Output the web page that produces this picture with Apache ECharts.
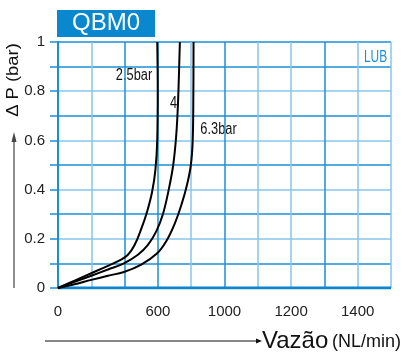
<!DOCTYPE html>
<html><head><meta charset="utf-8">
<script src="https://cdn.jsdelivr.net/npm/echarts@6/dist/echarts.min.js"></script>
<style>html,body{margin:0;padding:0;background:#fff}#c{width:404px;height:358px}</style>
</head><body><div id="c"></div>
<script>
// x tick labels (one per 200 NL/min grid cell, as printed on the original)
var xTickLabels = ['0','','','600','','1000','','1200','','1400',''];
var yTickLabels = {0:'0',0.2:'0.2',0.4:'0.4',0.6:'0.6',0.8:'0.8',1:'1'};
var seriesNames = ['2.5bar','4','6.3bar'];
var flow25 = [0, 100, 200, 300, 370, 420, 460, 500, 535, 565, 585, 596, 599, 596];
var dp25   = [0, 0.03, 0.06, 0.09, 0.112, 0.135, 0.175, 0.24, 0.31, 0.39, 0.48, 0.60, 0.80, 1.0];
var flow4  = [0, 100, 200, 300, 396, 480, 540, 590, 630, 665, 692, 710, 720, 726, 732];
var dp4    = [0, 0.025, 0.05, 0.075, 0.10, 0.135, 0.175, 0.23, 0.30, 0.40, 0.50, 0.62, 0.74, 0.86, 1.0];
var flow63 = [0, 100, 200, 300, 396, 500, 594, 650, 700, 742, 775, 798, 809, 813, 814];
var dp63   = [0, 0.015, 0.033, 0.05, 0.065, 0.095, 0.14, 0.19, 0.26, 0.34, 0.42, 0.50, 0.60, 0.80, 1.0];

function pairs(xs, ys){ return xs.map(function(x,i){return [x, ys[i]];}); }
var DARK = '#1a8fd6', LIGHT = '#86c6ea';
var SANS = '"Liberation Sans", Arial, sans-serif';

var chart = echarts.init(document.getElementById('c'), null, {renderer:'canvas'});
var lineStyle = {color:'#000', width:2};
chart.setOption({
  animation:false,
  grid:{left:58, right:13, top:42, bottom:70},
  xAxis:{type:'value', min:0, max:2000, interval:200,
    axisLine:{show:false}, axisTick:{show:false},
    axisLabel:{margin:16, fontSize:15, fontFamily:SANS, color:'#222',
      formatter:function(v){ return xTickLabels[Math.round(v/200)] || ''; }, showMinLabel:true, showMaxLabel:true},
    splitLine:{show:true, lineStyle:{width:1.5, color:[DARK,LIGHT,DARK,DARK,LIGHT,DARK,LIGHT,LIGHT,DARK,LIGHT,LIGHT]}}
  },
  yAxis:{type:'value', min:0, max:1, interval:0.1,
    axisLine:{show:true, onZero:false, lineStyle:{color:DARK, width:2}}, axisTick:{show:true, length:8, inside:false, lineStyle:{color:DARK, width:1.5}},
    axisLabel:{margin:13, fontSize:15, fontFamily:SANS, color:'#222',
      formatter:function(v){ var k = Math.round(v*10)/10; return yTickLabels[k]!==undefined ? yTickLabels[k] : ''; }},
    splitLine:{show:true, lineStyle:{width:1.5, color:['#0a85d0',DARK,LIGHT,DARK,LIGHT,DARK,LIGHT,DARK,LIGHT,DARK,DARK]}}
  },
  series:[
    {name:seriesNames[0], type:'line', data:pairs(flow25,dp25), smooth:0.4, symbol:'none', lineStyle:lineStyle, z:5},
    {name:seriesNames[1], type:'line', data:pairs(flow4,dp4), smooth:0.4, symbol:'none', lineStyle:lineStyle, z:5},
    {name:seriesNames[2], type:'line', data:pairs(flow63,dp63), smooth:0.4, symbol:'none', lineStyle:lineStyle, z:5},
    {type:'line', data:[[0,0],[2000,0]], symbol:'none', lineStyle:{color:'#0a85d0', width:3}, z:4, silent:true}
  ],
  graphic:[
    {type:'rect', shape:{x:57, y:10, width:98, height:27}, style:{fill:'#0a88cf'}},
    {type:'text', x:106, y:23.5, style:{text:'QBM0', fill:'#fff', font:'24px '+SANS, textAlign:'center', textVerticalAlign:'middle'}},
    {type:'text', x:375.5, y:57.5, scaleX:0.7, style:{text:'LUB', fill:'#1a8fd6', font:'17px '+SANS, textAlign:'center', textVerticalAlign:'middle'}},
    {type:'text', x:134, y:75.5, scaleX:0.8, style:{text:seriesNames[0], fill:'#111', font:'16px '+SANS, textAlign:'center', textVerticalAlign:'middle'}},
    {type:'text', x:173.5, y:104, scaleX:0.8, style:{text:seriesNames[1], fill:'#111', font:'16px '+SANS, textAlign:'center', textVerticalAlign:'middle'}},
    {type:'text', x:218.5, y:130, scaleX:0.8, style:{text:seriesNames[2], fill:'#111', font:'16px '+SANS, textAlign:'center', textVerticalAlign:'middle'}},
    {type:'text', x:14, y:80, rotation:Math.PI/2, scaleX:1.15, style:{text:'\u0394 P (bar)', fill:'#111', font:'16px '+SANS, textAlign:'center', textVerticalAlign:'middle'}},
    {type:'line', shape:{x1:14, y1:288, x2:14, y2:140}, style:{stroke:'#444', lineWidth:1.2}},
    {type:'polygon', shape:{points:[[14,132],[11.5,142],[16.5,142]]}, style:{fill:'#444'}},
    {type:'line', shape:{x1:45, y1:341, x2:257, y2:341}, style:{stroke:'#111', lineWidth:1.2}},
    {type:'polygon', shape:{points:[[262,341],[256,338.5],[256,343.5]]}, style:{fill:'#111'}},
    {type:'text', x:262, y:341, style:{text:'Vaz\u00e3o', fill:'#111', font:'24px '+SANS, textAlign:'left', textVerticalAlign:'middle'}},
    {type:'text', x:332, y:342, style:{text:'(NL/min)', fill:'#111', font:'18px '+SANS, textAlign:'left', textVerticalAlign:'middle'}}
  ]
});
</script></body></html>
